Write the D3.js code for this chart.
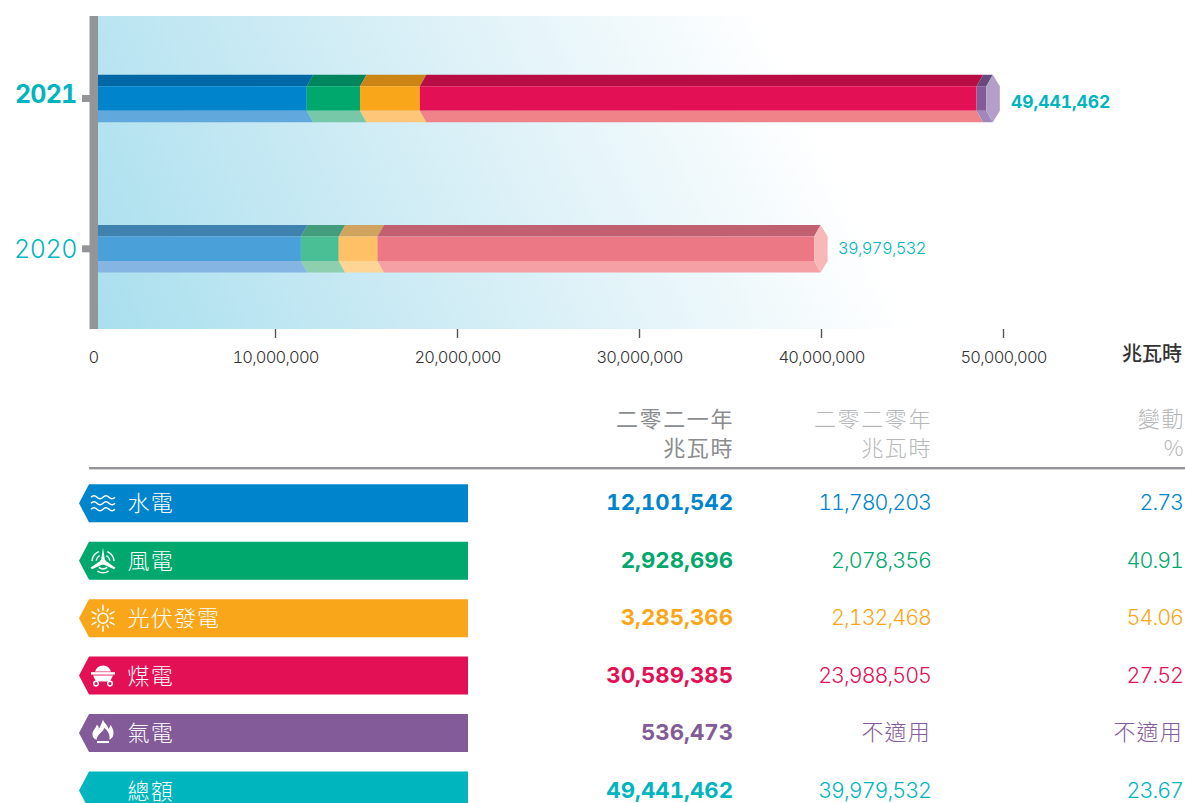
<!DOCTYPE html>
<html>
<head>
<meta charset="utf-8">
<script src="https://d3js.org/d3.v7.min.js"></script>
<style>
    html, body { margin: 0; padding: 0; background: #fff; overflow: hidden; }
    text { font-family: Inter, "Noto Sans CJK TC", sans-serif; font-variant-numeric: tabular-nums; }
    .cjk { font-family: "Noto Sans CJK TC", sans-serif; }
</style>
</head>
<body>
<svg width="1185" height="803"></svg>
<script>
    // data
    const years = ['2021', '2020']
    const categories = ['水電', '風電', '光伏發電', '煤電', '氣電', '總額']
    const values2021 = [12101542, 2928696, 3285366, 30589385, 536473]
    const values2020 = [11780203, 2078356, 2132468, 23988505]
    const totals = [49441462, 39979532]
    const col2021 = ['12,101,542', '2,928,696', '3,285,366', '30,589,385', '536,473', '49,441,462']
    const col2020 = ['11,780,203', '2,078,356', '2,132,468', '23,988,505', '不適用', '39,979,532']
    const colChange = ['2.73', '40.91', '54.06', '27.52', '不適用', '23.67']
    const axisTicks = [0, 10000000, 20000000, 30000000, 40000000, 50000000]

    // colours
    const rowColors = ['#0085cc', '#00a86e', '#faa61a', '#e31055', '#835b99', '#00b5bd']
    const faces = {
        '2021': {
            top: ['#0069a5', '#00855c', '#cc8515', '#b80c44', '#664a7c'],
            mid: ['#0085cc', '#00a86e', '#faa61a', '#e31055', '#835b99'],
            bot: ['#61a8dc', '#76c8a8', '#fdc679', '#f0828a', '#a088bc'],
            cap: '#b39fc8'
        },
        '2020': {
            top: ['#3f82b0', '#439c7c', '#d0a35e', '#c06070'],
            mid: ['#4aa0d8', '#4abf95', '#ffc066', '#ec7785'],
            bot: ['#85b5e2', '#8ecfb0', '#ffd595', '#f4a0a5'],
            cap: '#f8b8b8'
        }
    }

    const svg = d3.select('svg')
    const teal = '#00b5bd'

    const x = d3.scaleLinear().domain([0, 50000000]).range([93, 1003])
    const y = d3.scalePoint().domain(years).range([98.5, 248.8])

    const plotLeft = 98, plotTop = 16, plotBottom = 329

    // background fade
    const grad = svg.append('defs').append('linearGradient')
        .attr('id', 'bg')
        .attr('gradientUnits', 'userSpaceOnUse')
        .attr('x1', 98).attr('y1', 329)
        .attr('x2', 762).attr('y2', 12)
    grad.append('stop').attr('offset', 0).attr('stop-color', '#a9dfee')
    grad.append('stop').attr('offset', 0.5).attr('stop-color', '#d5eef6')
    grad.append('stop').attr('offset', 1).attr('stop-color', '#ffffff')

    svg.append('rect')
        .attr('x', plotLeft).attr('y', plotTop)
        .attr('width', 810).attr('height', plotBottom - plotTop)
        .attr('fill', 'url(#bg)')

    // stacked bars with a bevel
    const bevel = 6.5, halfMid = 12.3, halfAll = 23.8

    function poly(g, pts, fill) {
        g.append('polygon')
            .attr('points', pts.map(p => p.join(',')).join(' '))
            .attr('fill', fill)
    }

    years.forEach((yr, i) => {
        const vals = i === 0 ? values2021 : values2020
        const f = faces[yr]
        const cy = y(yr)
        const g = svg.append('g').attr('class', 'bar')
        let sum = 0
        vals.forEach((v, k) => {
            const x0 = x(sum)
            sum += v
            const x1 = x(sum)
            const xa = k === 0 ? plotLeft : x0
            const xb = k === 0 ? plotLeft : x0 - bevel
            poly(g, [[xa, cy - halfAll], [x1, cy - halfAll], [x1 - bevel, cy - halfMid], [xb, cy - halfMid]], f.top[k])
            poly(g, [[xb, cy - halfMid], [x1 - bevel, cy - halfMid], [x1 - bevel, cy + halfMid], [xb, cy + halfMid]], f.mid[k])
            poly(g, [[xb, cy + halfMid], [x1 - bevel, cy + halfMid], [x1, cy + halfAll], [xa, cy + halfAll]], f.bot[k])
        })
        const xe = x(sum)
        poly(g, [[xe, cy - halfAll], [xe + 7, cy - halfMid], [xe + 7, cy + halfMid], [xe, cy + halfAll],
            [xe - bevel, cy + halfMid], [xe - bevel, cy - halfMid]], f.cap)

        // end value
        svg.append('text')
            .attr('x', i === 0 ? 1011 : 838)
            .attr('y', i === 0 ? cy + 9.5 : cy + 5.5)
            .attr('fill', teal)
            .attr('font-size', i === 0 ? 17.4 : 16.5)
            .attr('font-weight', i === 0 ? 700 : 300)
            .attr('letter-spacing', i === 0 ? 0 : -0.65)
            .text(d3.format(',')(totals[i]))

        // year label + tick
        svg.append('text')
            .attr('x', i === 0 ? 15 : 14)
            .attr('y', i === 0 ? cy + 4.5 : cy + 9.5)
            .attr('fill', teal)
            .attr('font-size', 25)
            .attr('font-weight', i === 0 ? 700 : 300)
            .attr('letter-spacing', i === 0 ? -0.8 : -0.4)
            .text(yr)
        svg.append('rect')
            .attr('x', 82).attr('y', cy - 3.5)
            .attr('width', 8).attr('height', 7)
            .attr('fill', '#939598')
    })

    // y axis bar
    svg.append('rect')
        .attr('x', 89.5).attr('y', plotTop)
        .attr('width', 8.5).attr('height', plotBottom - plotTop)
        .attr('fill', '#939598')

    // x axis
    const axis = svg.append('g')
        .attr('transform', `translate(0,${plotBottom})`)
        .call(d3.axisBottom(x).tickValues(axisTicks).tickFormat(d3.format(',')).tickSize(9).tickPadding(13))
    axis.select('.domain').remove()
    axis.selectAll('.tick line').attr('stroke', '#555').attr('stroke-width', 1.4)
        .filter(d => d === 0).remove()
    axis.selectAll('.tick text')
        .attr('font-family', 'Inter').attr('font-weight', 300)
        .attr('font-size', 16.5).attr('letter-spacing', -0.8).attr('fill', '#333')

    svg.append('text').attr('class', 'cjk')
        .attr('x', 1182).attr('y', 361)
        .attr('text-anchor', 'end')
        .attr('font-size', 20).attr('font-weight', 500).attr('fill', '#333')
        .text('兆瓦時')

    // table header
    const colX = [734, 932, 1185]
    const headTop = ['二零二一年', '二零二零年', '變動']
    const headBottom = ['兆瓦時', '兆瓦時', '%']
    const headColor = ['#8a8c8e', '#b5b7b9', '#b5b7b9']
    headTop.forEach((t, i) => {
        svg.append('text').attr('class', 'cjk')
            .attr('x', colX[i]).attr('y', 427)
            .attr('text-anchor', 'end')
            .attr('font-size', 22).attr('font-weight', i === 0 ? 400 : 300)
            .attr('letter-spacing', 1.6)
            .attr('fill', headColor[i]).text(t)
        svg.append('text').attr('class', 'cjk')
            .attr('x', colX[i]).attr('y', 456)
            .attr('text-anchor', 'end')
            .attr('font-size', 22).attr('font-weight', i === 0 ? 400 : 300)
            .attr('letter-spacing', 1.6)
            .attr('fill', headColor[i]).text(headBottom[i])
    })
    svg.append('rect')
        .attr('x', 89).attr('y', 467)
        .attr('width', 1096).attr('height', 2.4)
        .attr('fill', '#939598')

    // table rows
    const rowY = d3.scalePoint().domain(categories).range([503.3, 790.5])
    const bandH = 38
    const cellX = [733, 931, 1183]

    categories.forEach((c, i) => {
        const cy = rowY(c)
        const color = rowColors[i]
        svg.append('polygon')
            .attr('points', [[89, cy - bandH / 2], [468, cy - bandH / 2], [468, cy + bandH / 2], [89, cy + bandH / 2], [79, cy]].map(p => p.join(',')).join(' '))
            .attr('fill', color)
        svg.append('text').attr('class', 'cjk')
            .attr('x', 127.5).attr('y', cy + 8)
            .attr('font-size', 22).attr('font-weight', 300)
            .attr('letter-spacing', 1.2)
            .attr('fill', '#fff').text(c)
        drawIcon(i, 103, cy)
        const cols = [col2021[i], col2020[i], colChange[i]]
        cols.forEach((t, k) => {
            const isText = t === '不適用'
            svg.append('text')
                .attr('class', isText ? 'cjk' : null)
                .attr('x', cellX[k]).attr('y', cy + 7)
                .attr('text-anchor', 'end')
                .attr('font-size', k === 0 ? 22.2 : (isText ? 22 : 21.5))
                .attr('font-weight', k === 0 ? 700 : 300)
                .attr('letter-spacing', isText ? 1.2 : (k === 0 ? 0 : -1))
                .attr('fill', color).text(t)
        })
    })

    // little white icons on the labels
    function drawIcon(i, cx, cy) {
        const g = svg.append('g').attr('transform', `translate(${cx},${cy})`)
            .attr('fill', '#fff').attr('stroke', 'none')
        if (i === 0) {
            // waves
            [-6, 0, 6].forEach(d => {
                g.append('path')
                    .attr('d', `M-12,${d} q3,-3 6,0 t6,0 t6,0 t6,0`)
                    .attr('fill', 'none').attr('stroke', '#fff').attr('stroke-width', 1.5)
            })
        } else if (i === 1) {
            // turbine
            g.append('circle').attr('r', 2.8).attr('cy', 1)
            g.append('path').attr('d', 'M-2,0 L0,-13 L2,0 Z')
            g.append('path').attr('d', 'M-1,-1 L-12.5,7 L-11,8.5 L1,3 Z')
            g.append('path').attr('d', 'M1,-1 L12.5,7 L11,8.5 L-1,3 Z')
            const arc = d3.arc()
            ;[[7, -1.4, -0.5], [7, 0.5, 1.4], [7, 2.5, 3.78], [11, -1.5, -0.4], [11, 0.4, 1.5], [11, 2.6, 3.68]].forEach(a => {
                g.append('path').attr('transform', 'translate(0,1)')
                    .attr('d', arc({ innerRadius: a[0] - 0.7, outerRadius: a[0] + 0.7, startAngle: a[1], endAngle: a[2] }))
            })
        } else if (i === 2) {
            // sun
            g.append('circle').attr('r', 5).attr('fill', 'none').attr('stroke', '#fff').attr('stroke-width', 1.6)
            d3.range(12).forEach(k => {
                const a = k * Math.PI / 6
                const r0 = 7.5, r1 = k % 2 ? 11 : 13.5
                g.append('line')
                    .attr('x1', r0 * Math.sin(a)).attr('y1', -r0 * Math.cos(a))
                    .attr('x2', r1 * Math.sin(a)).attr('y2', -r1 * Math.cos(a))
                    .attr('stroke', '#fff').attr('stroke-width', 1.5)
            })
        } else if (i === 3) {
            // coal cart
            g.append('path').attr('d', 'M-8,-4 Q-6,-10 0,-10 Q6,-10 8,-4 Z')
            g.append('rect').attr('x', -12).attr('y', -3.5).attr('width', 24).attr('height', 2.5)
            g.append('path').attr('d', 'M-10,0 L10,0 L7,6 L-7,6 Z')
            ;[-7, 7].forEach(d => {
                g.append('circle').attr('cx', d).attr('cy', 8).attr('r', 2.3)
                    .attr('fill', rowColors[i]).attr('stroke', '#fff').attr('stroke-width', 1.5)
            })
        } else if (i === 4) {
            // flame
            g.append('path').attr('transform', 'translate(0,-1) scale(1.05)')
                .attr('d', 'M0,-12 C1,-8 5,-7 5,-3 C7,-5 7,-7 7,-7 C10,-3 11,1 9,5 C8,6 7,7 6,7 C7,3 5,-1 1,-4 C1,0 -5,1 -6,7 C-8,7 -10,5 -10,2 C-10,-2 -7,-3 -6,-7 C-4,-6 -4,-4 -4,-3 C-2,-6 -1,-9 0,-12 Z')
            g.append('rect').attr('x', -6).attr('y', 8).attr('width', 12).attr('height', 2)
        }
    }
</script>
</body>
</html>
